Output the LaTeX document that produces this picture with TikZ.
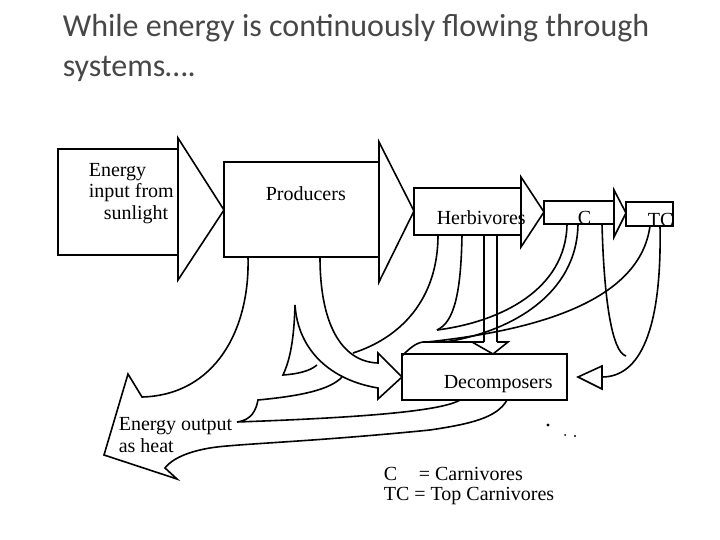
\documentclass[tikz,border=0pt]{standalone}
\usepackage{fontspec}
\setmainfont{Liberation Serif}
\newfontfamily\titlefont{Carlito}
\begin{document}
\begin{tikzpicture}[x=1pt,y=-1pt,line width=1.6pt,line join=miter,
  lbl/.style={font=\fontsize{20}{22}\selectfont,inner sep=0pt,anchor=base west},
  ttl/.style={font=\titlefont\fontsize{32}{40}\selectfont,text=black!72,inner sep=0pt,anchor=base west}]
\useasboundingbox (0,0) rectangle (720,540);
% title
\node[ttl] (t1) at (62,37) {While energy is continuously flowing through};
\node[ttl] (t2) at (62,77) {systems….};
% block arrows
\draw (58,149) rectangle (178,255);
\draw (178,138) -- (224,210) -- (178,280) -- cycle;
\draw (224,162) rectangle (379,257);
\draw (379,142) -- (414,211) -- (379,282) -- cycle;
\draw (414,188) rectangle (521,235);
\draw (521,177) -- (544,212) -- (521,247) -- cycle;
\draw (544,201) rectangle (614,224);
\draw (614,190) -- (626,213) -- (614,237) -- cycle;
\draw (626,202) rectangle (673,226);
\draw (402,354) rectangle (567,400);
\draw (578,377) -- (602,366) -- (602,389) -- cycle;
% heat arrow
\draw (248,257) .. controls (250,330) and (215,395) .. (142,397) -- (128,374) -- (104,455) -- (177,479) -- (165,468)
  .. controls (175,455) and (200,448) .. (227,446) .. controls (260,443) and (330,440) .. (430,430)
  .. controls (470,424) and (497,418) .. (507,400);
\draw (460,400) .. controls (440,412) and (350,418) .. (237,422) .. controls (252,420) and (256,410) .. (258,400)
  .. controls (300,396) and (330,390) .. (342,377);
% producers -> decomposers
\draw (320,257) .. controls (320,330) and (345,362) .. (378,363) -- (378,353) -- (402,377) -- (378,399) -- (378,388)
  .. controls (330,380) and (298,350) .. (295,305);
\draw (295,305) .. controls (294,340) and (290,360) .. (283,375) .. controls (298,374) and (310,371) .. (317,365);
% herbivores
\draw (438,235) .. controls (438,300) and (400,338) .. (353,353);
\draw (462,235) .. controls (461,290) and (455,322) .. (437,330);
\draw (484,235) -- (484,342);
\draw (497,235) -- (497,342);
\draw (423,342) -- (484,342);
\draw (472,342) -- (493,354) -- (508,342) -- (497,342);
\draw (402,356) .. controls (408,350) and (415,343) .. (423,342);
% carnivores
\draw (567,224) .. controls (566,290) and (500,322) .. (437,330);
\draw (578,224) .. controls (577,295) and (510,332) .. (445,342);
\draw (602,224) .. controls (604,300) and (612,352) .. (626,356);
% top carnivores
\draw (650,226) .. controls (640,300) and (540,330) .. (427,342);
\draw (660,226) .. controls (662,330) and (640,377) .. (602,377);
% labels
\node[lbl] (e1) at (88,177) {Energy};
\node[lbl] (e2) at (88,198) {input from};
\node[lbl] (e3) at (103,220) {sunlight};
\node[lbl] (pr) at (265,201) {Producers};
\node[lbl] (hb) at (436,225) {Herbivores};
\node[lbl] (cc) at (577,225) {C};
\node[lbl] (tc) at (647,226) {TC};
\node[lbl] (dc) at (443,388) {Decomposers};
\node[lbl] (h1) at (118,430) {Energy output};
\node[lbl] (h2) at (118,452) {as heat};
\node[lbl] (l1) at (383,480) {C};
\node[lbl] (l2) at (418,480) {= Carnivores};
\node[lbl] (l3) at (383,500) {TC = Top Carnivores};
% specks
\fill (548,425) circle (1.6);
\fill (565,435) circle (1);
\fill (575,436) circle (1.1);
\end{tikzpicture}
\end{document}
